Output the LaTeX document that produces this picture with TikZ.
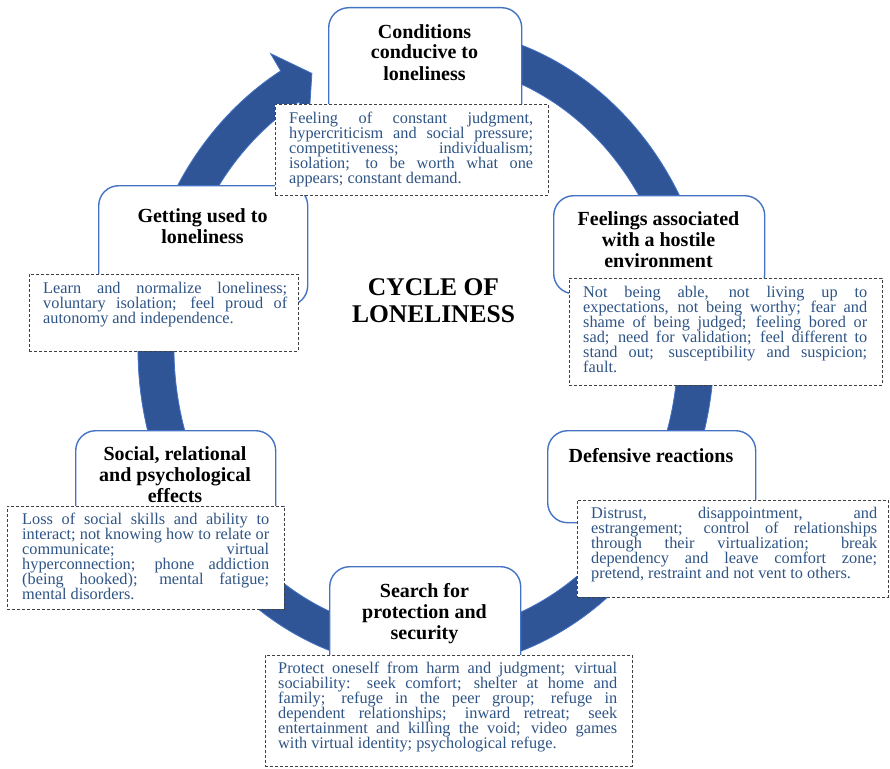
\documentclass[tikz,border=0pt]{standalone}
\usepackage{fontspec}
\setmainfont{Liberation Serif}
\definecolor{ringblue}{RGB}{47,85,151}
\definecolor{stageblue}{RGB}{68,114,196}
\definecolor{notegray}{RGB}{64,64,64}
\definecolor{notetext}{RGB}{46,84,134}
% justified note paragraph, baseline on its first line
\newcommand{\notepar}[2]{\parbox[t]{#1}{#2}}
\begin{document}
\begin{tikzpicture}[x=1pt,y=1pt,
    stage/.style={draw=stageblue,line width=1.4pt,fill=white,rounded corners=20pt,anchor=north west,inner sep=0pt},
    head/.style={font=\fontsize{20}{21}\selectfont\bfseries,align=center,anchor=base,inner sep=0pt},
    note/.style={draw=notegray,dash pattern=on 3pt off 2pt,line width=0.9pt,fill=white,anchor=north west,inner sep=0pt},
    notetxt/.style={font=\fontsize{16.3}{15}\selectfont,text=notetext,anchor=base west,inner sep=0pt}]
  \useasboundingbox (0,0) rectangle (890,-768);
  % ring arrow, ellipse centred at (426,-348)
  \begin{scope}[shift={(426,-348)}]
    \fill[ringblue,draw=stageblue,line width=0.8pt]
      (80:288 and 321) arc[start angle=80,end angle=-239.7,x radius=288,y radius=321]
      -- (120.3:308 and 341) -- (115:270 and 303) -- (120.3:232 and 265)
      -- (120.3:252 and 285) arc[start angle=-239.7,end angle=80,x radius=252,y radius=285] -- cycle;
  \end{scope}
  % stages
  \node[stage,minimum width=193pt,minimum height=178pt] (cond) at (328,-7) {};
  \node[stage,minimum width=211pt,minimum height=98pt] (feel) at (553,-195) {};
  \node[stage,minimum width=208pt,minimum height=92pt] (def) at (547,-430) {};
  \node[stage,minimum width=191pt,minimum height=174pt] (search) at (329,-566) {};
  \node[stage,minimum width=200pt,minimum height=160pt] (effects) at (75,-430) {};
  \node[stage,minimum width=209pt,minimum height=120pt] (used) at (98,-185) {};
  % dashed notes
  \node[note,minimum width=273pt,minimum height=91pt] (condnote) at (275,-104) {};
  \node[note,minimum width=313pt,minimum height=107pt] (feelnote) at (569,-278) {};
  \node[note,minimum width=311pt,minimum height=97pt] (defnote) at (577,-500) {};
  \node[note,minimum width=367pt,minimum height=111pt] (searchnote) at (265,-655) {};
  \node[note,minimum width=277pt,minimum height=103pt] (effectsnote) at (7,-506) {};
  \node[note,minimum width=269pt,minimum height=77pt] (usednote) at (29,-274) {};
  % note texts
  \node[notetxt] (condtxt) at (289,-123) {\notepar{244pt}{Feeling of constant judgment,\linebreak hypercriticism and social pressure;\linebreak competitiveness; individualism;\linebreak isolation; to be worth what one\linebreak appears; constant demand.}};
  \node[notetxt] (feeltxt) at (583,-297) {\notepar{284pt}{Not being able, not living up to\linebreak expectations, not being worthy; fear and\linebreak shame of being judged; feeling bored or\linebreak sad; need for validation; feel different to\linebreak stand out; susceptibility and suspicion;\linebreak fault.}};
  \node[notetxt] (deftxt) at (591,-518) {\notepar{286pt}{Distrust, disappointment, and\linebreak estrangement; control of relationships\linebreak through their virtualization; break\linebreak dependency and leave comfort zone;\linebreak pretend, restraint and not vent to others.}};
  \node[notetxt] (searchtxt) at (278,-673) {\notepar{339pt}{Protect oneself from harm and judgment; virtual\linebreak sociability: seek comfort; shelter at home and\linebreak family; refuge in the peer group; refuge in\linebreak dependent relationships; inward retreat; seek\linebreak entertainment and killing the void; video games\linebreak with virtual identity; psychological refuge.}};
  \node[notetxt] (effectstxt) at (22,-524) {\notepar{247pt}{Loss of social skills and ability to\linebreak interact; not knowing how to relate or\linebreak communicate; virtual\linebreak hyperconnection; phone addiction\linebreak (being hooked); mental fatigue;\linebreak mental disorders.}};
  \node[notetxt] (usedtxt) at (43,-293) {\notepar{244pt}{Learn and normalize loneliness;\linebreak voluntary isolation; feel proud of\linebreak autonomy and independence.}};
  % headings (anchored at the baseline of their last line)
  \node[head] (condhead) at (424.5,-80) {Conditions\\conducive to\\loneliness};
  \node[head] (feelhead) at (658.5,-267) {Feelings associated\\with a hostile\\environment};
  \node[head] (defhead) at (651,-462) {Defensive reactions};
  \node[head] (searchhead) at (424.5,-639) {Search for\\protection and\\security};
  \node[head] (effectshead) at (175,-502) {Social, relational\\and psychological\\effects};
  \node[head] (usedhead) at (202.5,-243) {Getting used to\\loneliness};
  \node[font=\fontsize{25.5}{26.7}\selectfont\bfseries,align=center,anchor=base] (title) at (433.5,-322) {CYCLE OF\\LONELINESS};
\end{tikzpicture}
\end{document}
